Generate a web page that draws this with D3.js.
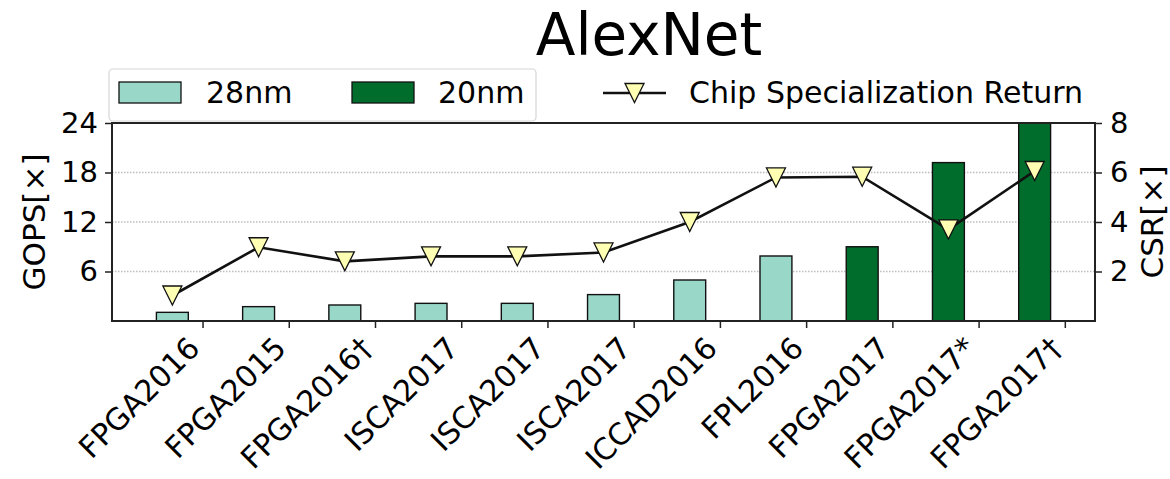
<!DOCTYPE html>
<html><head><meta charset="utf-8">
<script src="https://cdn.jsdelivr.net/npm/d3@7"></script>
<style>
html,body{margin:0;padding:0;background:#fff;}
text{font-family:"DejaVu Sans",sans-serif;fill:#000;}
</style></head>
<body>
<svg id="chart" width="1170" height="479"></svg>
<script>
const categories = ["FPGA2016","FPGA2015","FPGA2016†","ISCA2017","ISCA2017","ISCA2017","ICCAD2016","FPL2016","FPGA2017","FPGA2017*","FPGA2017†"];
const nodes = ["28nm","28nm","28nm","28nm","28nm","28nm","28nm","28nm","20nm","20nm","20nm"];
const gops = [1.05, 1.74, 1.94, 2.14, 2.14, 3.2, 4.97, 7.88, 9.0, 19.2, 24];
const csr = [1.03, 2.98, 2.41, 2.61, 2.61, 2.77, 4.0, 5.8, 5.83, 3.7, 6.06];
const leftTicks = [6, 12, 18, 24];
const rightTicks = [2, 4, 6, 8];
const colors = {"28nm": "#99d8c9", "20nm": "#006d2c"};

const svg = d3.select("#chart");
const L = 112, R = 1095, T = 123, B = 321;
const x = d3.scaleLinear().domain([-0.7, 10.7]).range([L, R]);
const yL = d3.scaleLinear().domain([0, 24]).range([B, T]);
const yR = d3.scaleLinear().domain([0, 8]).range([B, T]);
const barW = x(0.37) - x(0);
const tickOff = 0.35;

svg.append("defs").append("clipPath").attr("id","clip")
  .append("rect").attr("x",L).attr("y",T).attr("width",R-L).attr("height",B-T);

// grid
svg.append("g").selectAll("line").data(leftTicks.slice(0,3)).join("line")
  .attr("x1",L).attr("x2",R).attr("y1",d=>yL(d)).attr("y2",d=>yL(d))
  .attr("stroke","#bdbdbd").attr("stroke-width",1.4).attr("stroke-dasharray","1.5,1.5");

// bars
svg.append("g").attr("clip-path","url(#clip)").selectAll("rect").data(gops).join("rect")
  .attr("x",(d,i)=>x(i)-barW/2).attr("width",barW)
  .attr("y",d=>yL(d)).attr("height",d=>B-yL(d))
  .attr("fill",(d,i)=>colors[nodes[i]]).attr("stroke","#111").attr("stroke-width",1.4);

// line
const line = d3.line().x((d,i)=>x(i)).y(d=>yR(d));
svg.append("path").datum(csr).attr("d",line).attr("fill","none").attr("stroke","#111").attr("stroke-width",2.6);

const tri = s => `M${-s/2},${-s/2}L${s/2},${-s/2}L0,${s/2}Z`;
svg.append("g").selectAll("path").data(csr).join("path")
  .attr("transform",(d,i)=>`translate(${x(i)},${yR(d)})`)
  .attr("d",tri(19)).attr("fill","#ffffb3").attr("stroke","#111").attr("stroke-width",1.3);

// frame
svg.append("rect").attr("x",L).attr("y",T).attr("width",R-L).attr("height",B-T)
  .attr("fill","none").attr("stroke","#222").attr("stroke-width",2);

// left axis
const gL = svg.append("g").attr("transform",`translate(${L},0)`)
  .call(d3.axisLeft(yL).tickValues(leftTicks).tickSize(7).tickPadding(7));
gL.select(".domain").remove();
gL.selectAll("line").attr("stroke","#222").attr("stroke-width",1.5);
gL.selectAll("text").attr("font-size",29).attr("font-family","DejaVu Sans");

// right axis
const gR = svg.append("g").attr("transform",`translate(${R},0)`)
  .call(d3.axisRight(yR).tickValues(rightTicks).tickSize(7).tickPadding(8));
gR.select(".domain").remove();
gR.selectAll("line").attr("stroke","#222").attr("stroke-width",1.5);
gR.selectAll("text").attr("font-size",29).attr("font-family","DejaVu Sans");

// x axis
const tickPos = categories.map((c,i)=>i+tickOff);
const gX = svg.append("g").attr("transform",`translate(0,${B})`)
  .call(d3.axisBottom(x).tickValues(tickPos).tickSize(7).tickFormat(""));
gX.select(".domain").remove();
gX.selectAll("line").attr("stroke","#222").attr("stroke-width",1.5);
svg.append("g").selectAll("text").data(categories).join("text")
  .attr("transform",(d,i)=>`translate(${x(i+tickOff)-1},${B+29}) rotate(-45)`)
  .attr("text-anchor","end").attr("font-size",30).text(d=>d);

// axis titles
svg.append("text").attr("transform",`translate(45,${(T+B)/2}) rotate(-90)`)
  .attr("text-anchor","middle").attr("font-size",31).text("GOPS[×]");
svg.append("text").attr("transform",`translate(1163,${(T+B)/2}) rotate(-90)`)
  .attr("text-anchor","middle").attr("font-size",31).text("CSR[×]");

// title
svg.append("text").attr("x",649).attr("y",55).attr("text-anchor","middle")
  .attr("font-size",58).text("AlexNet");

// legend 1
svg.append("rect").attr("x",109).attr("y",69).attr("width",427).attr("height",52).attr("rx",4)
  .attr("fill","#fff").attr("fill-opacity",0.85).attr("stroke","#d6d6d6").attr("stroke-width",1.2);
const leg = [{k:"28nm",x:119,tx:206},{k:"20nm",x:352,tx:438}];
leg.forEach(d=>{
  svg.append("rect").attr("x",d.x).attr("y",82).attr("width",62).attr("height",21)
    .attr("fill",colors[d.k]).attr("stroke","#111").attr("stroke-width",1.3);
  svg.append("text").attr("x",d.tx).attr("y",103).attr("font-size",30).text(d.k);
});
// legend 2
svg.append("line").attr("x1",603).attr("x2",666).attr("y1",93).attr("y2",93).attr("stroke","#111").attr("stroke-width",2.6);
svg.append("path").attr("transform","translate(634.5,93)").attr("d",tri(19))
  .attr("fill","#ffffb3").attr("stroke","#111").attr("stroke-width",1.3);
svg.append("text").attr("x",689).attr("y",103).attr("font-size",30).text("Chip Specialization Return");
</script>
</body></html>
